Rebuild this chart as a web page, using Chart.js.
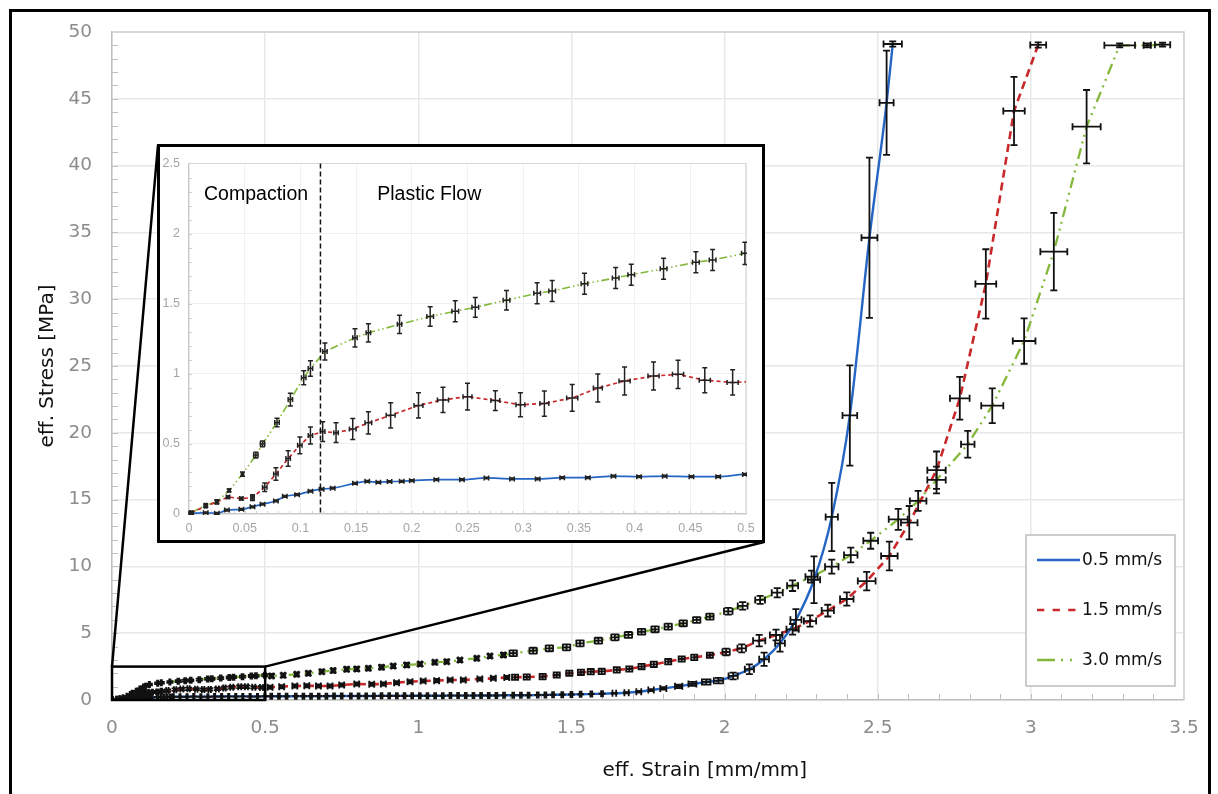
<!DOCTYPE html>
<html>
<head>
<meta charset="utf-8">
<title>eff. Stress vs eff. Strain</title>
<script src="https://cdn.jsdelivr.net/npm/chart.js@4.4.1/dist/chart.umd.min.js"></script>
<style>
  html, body { margin: 0; padding: 0; background: #fff; }
  #page { position: relative; width: 1218px; height: 794px; overflow: hidden; }
  #frame { position: absolute; left: 9px; top: 9px; width: 1202px; height: 820px; border: 3px solid #000; box-sizing: border-box; }
  #main { position: absolute; left: 0; top: 0; }
  #inset { position: absolute; left: 157px; top: 144px; width: 608px; height: 399px; border: 3px solid #000; box-sizing: border-box; background: #fff; }
  #insetChart { display: block; }
</style>
</head>
<body>
<div id="page">
  <div id="frame"></div>
  <canvas id="main" width="1218" height="794"></canvas>
  <div id="inset"><canvas id="insetChart" width="602" height="393"></canvas></div>
</div>
<script>
// series names
const seriesLabels = ['0.5 mm/s', '1.5 mm/s', '3.0 mm/s'];

// 0.5 mm/s
const blueStrain = [0.002,0.015,0.025,0.034,0.047,0.057,0.066,0.078,0.086,0.097,0.109,0.119,0.129,0.149,0.160,0.170,0.180,0.191,0.200,0.222,0.245,0.267,0.290,0.313,0.335,0.358,0.381,0.404,0.427,0.451,0.475,0.499,
  0.52,0.545,0.57,0.60,0.625,0.65,0.675,0.70,0.725,0.75,0.78,0.805,0.83,0.855,0.88,0.905,0.93,0.955,0.98,1.005,1.03,1.055,1.08,1.105,1.13,1.155,1.18,1.205,1.23,1.255,1.28,1.31,1.335,1.36,1.39,1.415,1.44,1.47,1.50,1.53,1.565,1.60,
  1.64,1.68,1.72,1.76,1.80,1.85,1.895,1.94,1.98,
  2.028,2.081,2.129,2.181,2.233,2.292,2.35,2.409,2.473,2.529,2.549];
const blueStress = [0.005,0.009,0.005,0.028,0.033,0.051,0.070,0.093,0.126,0.138,0.163,0.177,0.184,0.219,0.233,0.226,0.231,0.233,0.238,0.245,0.245,0.257,0.250,0.250,0.259,0.259,0.270,0.266,0.270,0.266,0.266,0.282,
  0.28,0.28,0.28,0.29,0.29,0.29,0.29,0.29,0.30,0.30,0.30,0.30,0.30,0.30,0.31,0.31,0.31,0.31,0.31,0.32,0.32,0.32,0.32,0.33,0.33,0.33,0.33,0.34,0.34,0.34,0.35,0.35,0.36,0.36,0.37,0.38,0.39,0.40,0.41,0.43,0.45,0.47,
  0.50,0.54,0.62,0.74,0.87,1.02,1.2,1.35,1.45,
  1.8,2.3,3.05,4.24,6.0,9.0,13.7,21.3,34.6,44.7,49.1];
const blueStrainErr = [0.002,0.002,0.002,0.002,0.002,0.002,0.002,0.002,0.002,0.002,0.002,0.002,0.002,0.002,0.002,0.002,0.002,0.002,0.002,0.002,0.002,0.002,0.002,0.002,0.002,0.002,0.002,0.002,0.002,0.002,0.002,0.002,
  0.003,0.003,0.003,0.003,0.003,0.003,0.003,0.003,0.003,0.003,0.003,0.003,0.003,0.003,0.003,0.003,0.003,0.003,0.003,0.003,0.003,0.003,0.003,0.003,0.003,0.003,0.003,0.003,0.003,0.003,0.003,0.003,0.003,0.003,0.003,0.003,0.003,0.003,0.003,0.003,0.003,0.003,
  0.006,0.007,0.008,0.009,0.010,0.012,0.013,0.014,0.015,
  0.015,0.015,0.016,0.016,0.018,0.020,0.020,0.024,0.026,0.023,0.030];
const blueStressErr = [0.006,0.006,0.006,0.006,0.006,0.006,0.006,0.006,0.006,0.006,0.006,0.006,0.006,0.006,0.006,0.006,0.006,0.006,0.006,0.006,0.006,0.006,0.006,0.006,0.006,0.006,0.006,0.006,0.006,0.006,0.006,0.006,
  0.01,0.01,0.01,0.01,0.01,0.01,0.01,0.01,0.01,0.01,0.01,0.01,0.01,0.01,0.01,0.01,0.01,0.01,0.01,0.01,0.01,0.01,0.01,0.01,0.01,0.01,0.01,0.01,0.01,0.01,0.01,0.01,0.01,0.01,0.01,0.01,0.01,0.01,0.01,0.01,0.01,0.01,
  0.03,0.05,0.06,0.08,0.10,0.12,0.15,0.20,0.20,
  0.25,0.37,0.50,0.62,0.80,1.75,2.55,3.75,6.0,3.9,0.2];

// 1.5 mm/s
const redStrain = [0.002,0.015,0.025,0.035,0.047,0.057,0.068,0.078,0.089,0.0995,0.109,0.120,0.132,0.147,0.161,0.181,0.206,0.228,0.250,0.275,0.2975,0.319,0.344,0.367,0.391,0.417,0.439,0.463,0.488,
  0.516,0.554,0.597,0.636,0.674,0.712,0.750,0.799,0.848,0.886,0.929,0.973,1.016,1.060,1.104,1.147,1.201,1.245,1.289,
  1.316,1.354,1.406,1.452,1.493,1.531,1.563,1.599,1.648,1.689,1.729,1.769,1.816,1.860,1.901,1.952,
  2.005,2.056,2.113,2.168,2.222,2.279,2.337,2.399,2.464,2.538,2.603,2.692,2.768,2.853,2.945,3.024];
const redStress = [0.01,0.056,0.086,0.121,0.11,0.117,0.191,0.285,0.396,0.49,0.56,0.588,0.58,0.606,0.65,0.704,0.774,0.814,0.837,0.809,0.779,0.788,0.828,0.898,0.949,0.984,0.996,0.954,0.938,
  0.95,1.0,1.05,1.07,1.05,1.05,1.12,1.2,1.17,1.2,1.3,1.37,1.42,1.45,1.5,1.5,1.57,1.62,1.68,
  1.70,1.72,1.75,1.87,2.0,2.07,2.12,2.14,2.25,2.32,2.5,2.67,2.87,3.07,3.19,3.35,
  3.6,3.87,4.44,4.87,5.29,5.91,6.69,7.56,8.9,10.78,13.27,17.2,22.58,31.14,44.09,49.03];
const redStrainErr = [0.001,0.001,0.001,0.0015,0.0015,0.0015,0.002,0.002,0.002,0.002,0.002,0.002,0.002,0.003,0.003,0.004,0.004,0.005,0.004,0.004,0.004,0.004,0.005,0.004,0.005,0.005,0.005,0.005,0.005,
  0.008,0.008,0.008,0.008,0.008,0.008,0.008,0.008,0.008,0.008,0.008,0.008,0.008,0.008,0.008,0.008,0.008,0.008,0.008,
  0.01,0.01,0.01,0.01,0.01,0.01,0.01,0.01,0.01,0.01,0.01,0.01,0.01,0.01,0.01,0.01,
  0.012,0.014,0.02,0.02,0.02,0.02,0.02,0.022,0.029,0.027,0.027,0.03,0.032,0.034,0.035,0.026];
const redStressErr = [0.005,0.01,0.01,0.01,0.01,0.02,0.03,0.045,0.055,0.06,0.06,0.07,0.07,0.075,0.08,0.09,0.09,0.09,0.095,0.07,0.085,0.09,0.095,0.1,0.1,0.1,0.1,0.09,0.09,
  0.12,0.12,0.12,0.12,0.12,0.12,0.12,0.12,0.12,0.12,0.12,0.12,0.12,0.12,0.12,0.12,0.12,0.12,0.12,
  0.2,0.2,0.2,0.2,0.2,0.2,0.2,0.2,0.2,0.2,0.2,0.2,0.2,0.2,0.2,0.2,
  0.25,0.3,0.43,0.4,0.4,0.42,0.44,0.5,0.69,1.08,1.25,1.4,1.6,2.6,2.55,0.2];

// 3.0 mm/s
const greenStrain = [0.002,0.015,0.025,0.036,0.048,0.060,0.066,0.079,0.091,0.103,0.109,0.122,0.149,0.161,0.189,0.2165,0.239,0.257,0.285,0.3125,0.326,0.355,0.383,0.397,0.426,0.455,0.470,0.499,
  0.521,0.559,0.603,0.641,0.685,0.722,0.766,0.799,0.837,0.880,0.918,0.962,1.006,1.054,1.093,1.136,1.191,1.234,1.278,
  1.31,1.375,1.428,1.484,1.528,1.588,1.642,1.686,1.729,1.773,1.816,1.865,1.909,1.952,
  2.012,2.059,2.116,2.172,2.222,2.284,2.35,2.412,2.477,2.567,2.632,2.692,2.794,2.874,2.978,3.075,3.182,3.29,3.38,3.43];
const greenStress = [0.01,0.063,0.086,0.168,0.285,0.42,0.50,0.653,0.816,0.972,1.038,1.159,1.257,1.292,1.353,1.409,1.446,1.474,1.525,1.574,1.59,1.642,1.684,1.707,1.749,1.796,1.812,1.859,
  1.80,1.85,1.92,2.0,2.12,2.2,2.3,2.32,2.37,2.45,2.54,2.62,2.69,2.82,2.87,2.99,3.12,3.29,3.37,
  3.5,3.69,3.87,3.94,4.24,4.44,4.69,4.87,5.11,5.29,5.49,5.74,5.99,6.24,
  6.64,7.04,7.49,8.03,8.56,9.23,9.98,10.85,11.92,13.52,14.9,16.47,19.14,22.03,26.87,33.56,42.91,49.0,49.0,49.05];
const greenStrainErr = [0.001,0.001,0.001,0.001,0.001,0.002,0.002,0.002,0.002,0.002,0.002,0.002,0.002,0.002,0.002,0.003,0.003,0.003,0.003,0.003,0.003,0.003,0.003,0.003,0.003,0.003,0.003,0.003,
  0.006,0.006,0.006,0.006,0.006,0.006,0.006,0.006,0.006,0.006,0.006,0.006,0.006,0.006,0.006,0.006,0.006,0.006,0.006,
  0.012,0.012,0.012,0.012,0.012,0.012,0.012,0.012,0.012,0.012,0.012,0.012,0.012,0.012,
  0.014,0.016,0.016,0.018,0.018,0.02,0.022,0.022,0.024,0.031,0.027,0.03,0.022,0.036,0.037,0.044,0.046,0.05,0.012,0.025];
const greenStressErr = [0.005,0.01,0.015,0.01,0.015,0.02,0.02,0.03,0.045,0.05,0.055,0.06,0.065,0.065,0.065,0.07,0.075,0.07,0.07,0.075,0.075,0.075,0.075,0.075,0.075,0.075,0.075,0.08,
  0.15,0.15,0.15,0.15,0.15,0.15,0.15,0.15,0.15,0.15,0.15,0.15,0.15,0.15,0.15,0.15,0.15,0.15,0.15,
  0.22,0.22,0.22,0.22,0.22,0.22,0.22,0.22,0.22,0.22,0.22,0.22,0.22,0.22,
  0.25,0.28,0.3,0.35,0.4,0.45,0.52,0.55,0.6,0.78,0.75,1.0,1.0,1.3,1.7,2.9,2.75,0.15,0.15,0.15];

// axis ticks
const strainTicks = [0, 0.5, 1, 1.5, 2, 2.5, 3, 3.5];
const stressTicks = [0, 5, 10, 15, 20, 25, 30, 35, 40, 45, 50];
const insetStrainTicks = [0, 0.05, 0.1, 0.15, 0.2, 0.25, 0.3, 0.35, 0.4, 0.45, 0.5];
const insetStressTicks = [0, 0.5, 1, 1.5, 2, 2.5];

// inset annotations
const compactionEnd = 0.118;
const regionLabels = ['Compaction', 'Plastic Flow'];
const regionLabelStrain = [0.0135, 0.169];
const regionLabelStress = 2.24;

const xTitle = 'eff. Strain [mm/mm]';
const yTitle = 'eff. Stress [MPa]';

function points(xs, ys) {
  return xs.map((x, i) => ({ x: x, y: ys[i] }));
}

// error bars (both directions) in black
const errorBarPlugin = {
  id: 'errorBars',
  afterDatasetsDraw(chart, args, o) {
    const { ctx, chartArea: a, scales: { x, y } } = chart;
    ctx.save();
    ctx.beginPath();
    ctx.rect(a.left - 1, a.top - 1, a.right - a.left + 2, a.bottom - a.top + 2);
    ctx.clip();
    ctx.strokeStyle = o.color;
    ctx.lineWidth = o.width;
    const c = o.cap / 2;
    chart.data.datasets.forEach(ds => {
      ds.data.forEach((p, i) => {
        const px = x.getPixelForValue(p.x), py = y.getPixelForValue(p.y);
        const x0 = x.getPixelForValue(p.x - ds.errX[i]), x1 = x.getPixelForValue(p.x + ds.errX[i]);
        const y0 = y.getPixelForValue(p.y - ds.errY[i]), y1 = y.getPixelForValue(p.y + ds.errY[i]);
        ctx.beginPath();
        ctx.moveTo(px, y0); ctx.lineTo(px, y1);
        ctx.moveTo(px - c, y0); ctx.lineTo(px + c, y0);
        ctx.moveTo(px - c, y1); ctx.lineTo(px + c, y1);
        ctx.moveTo(x0, py); ctx.lineTo(x1, py);
        ctx.moveTo(x0, py - c); ctx.lineTo(x0, py + c);
        ctx.moveTo(x1, py - c); ctx.lineTo(x1, py + c);
        ctx.stroke();
      });
    });
    ctx.restore();
  }
};

// plot area border + inside minor ticks
const axisDecor = {
  id: 'axisDecor',
  beforeDatasetsDraw(chart, args, o) {
    const { ctx, chartArea: a, scales: { x, y } } = chart;
    ctx.save();
    ctx.strokeStyle = o.borderColor;
    ctx.lineWidth = o.borderWidth;
    ctx.beginPath();
    ctx.moveTo(a.left, a.top); ctx.lineTo(a.right, a.top); ctx.lineTo(a.right, a.bottom);
    ctx.stroke();
    ctx.strokeStyle = o.tickColor;
    ctx.lineWidth = o.tickWidth;
    ctx.beginPath();
    const nx = Math.round((x.max - x.min) / o.xStep);
    for (let i = 1; i < nx; i++) {
      const px = Math.round(x.getPixelForValue(x.min + i * o.xStep)) + 0.5;
      ctx.moveTo(px, a.bottom); ctx.lineTo(px, a.bottom - o.len);
    }
    const ny = Math.round((y.max - y.min) / o.yStep);
    for (let i = 1; i < ny; i++) {
      const py = Math.round(y.getPixelForValue(y.min + i * o.yStep)) + 0.5;
      ctx.moveTo(a.left, py); ctx.lineTo(a.left + o.len, py);
    }
    ctx.stroke();
    ctx.restore();
  }
};

// zoom box, connector lines, legend, x title
const mainOverlay = {
  id: 'mainOverlay',
  afterDraw(chart) {
    const { ctx, chartArea: a, scales: { x, y } } = chart;
    const l = x.getPixelForValue(insetStrainTicks[0]);
    const r = x.getPixelForValue(insetStrainTicks[insetStrainTicks.length - 1]);
    const t = y.getPixelForValue(insetStressTicks[insetStressTicks.length - 1]);
    const b = y.getPixelForValue(insetStressTicks[0]);
    ctx.save();
    ctx.strokeStyle = '#000';
    ctx.lineWidth = 2.5;
    ctx.strokeRect(l, t, r - l, b - t);
    const box = document.getElementById('inset');
    const bl = box.offsetLeft, bt = box.offsetTop, bw = box.offsetWidth, bh = box.offsetHeight;
    ctx.beginPath();
    ctx.moveTo(l, t); ctx.lineTo(bl + 1, bt + 1);
    ctx.moveTo(r, t); ctx.lineTo(bl + bw - 1, bt + bh - 1);
    ctx.stroke();

    // legend
    const lg = { left: 1026, top: 535, width: 149, height: 151 };
    ctx.fillStyle = '#fff';
    ctx.fillRect(lg.left, lg.top, lg.width, lg.height);
    ctx.strokeStyle = '#bdbdbd';
    ctx.lineWidth = 1.5;
    ctx.strokeRect(lg.left, lg.top, lg.width, lg.height);
    ctx.font = '17px "DejaVu Sans"';
    ctx.textBaseline = 'middle';
    chart.data.datasets.forEach((ds, i) => {
      const cy = lg.top + 25 + i * 50;
      ctx.strokeStyle = ds.borderColor;
      ctx.lineWidth = ds.borderWidth;
      ctx.setLineDash(ds.legendDash);
      ctx.beginPath();
      ctx.moveTo(lg.left + 11, cy); ctx.lineTo(lg.left + 54, cy);
      ctx.stroke();
      ctx.setLineDash([]);
      ctx.fillStyle = '#111';
      ctx.fillText(ds.label, lg.left + 56, cy + 1);
    });

    // x axis title (sits right of centre in the original)
    ctx.font = '20px "DejaVu Sans"';
    ctx.fillStyle = '#111';
    ctx.textAlign = 'center';
    ctx.fillText(xTitle, a.left + (a.right - a.left) * 0.553, 771);
    ctx.restore();
  }
};

// dashed compaction limit + region names
const insetNotes = {
  id: 'insetNotes',
  afterDatasetsDraw(chart) {
    const { ctx, chartArea: a, scales: { x, y } } = chart;
    const px = x.getPixelForValue(compactionEnd);
    ctx.save();
    ctx.strokeStyle = '#111';
    ctx.lineWidth = 1.5;
    ctx.setLineDash([5, 3]);
    ctx.beginPath();
    ctx.moveTo(px, a.top); ctx.lineTo(px, a.bottom);
    ctx.stroke();
    ctx.setLineDash([]);
    ctx.fillStyle = '#000';
    ctx.font = '19.5px "Liberation Sans"';
    ctx.textBaseline = 'alphabetic';
    regionLabels.forEach((txt, i) => {
      ctx.fillText(txt, x.getPixelForValue(regionLabelStrain[i]), y.getPixelForValue(regionLabelStress));
    });
    ctx.restore();
  }
};

function makeDatasets(widths, dashes) {
  return [
    { label: seriesLabels[0], data: points(blueStrain, blueStress), errX: blueStrainErr, errY: blueStressErr,
      borderColor: '#2566c4', borderWidth: widths[0], borderDash: [], legendDash: [], cubicInterpolationMode: 'monotone' },
    { label: seriesLabels[1], data: points(redStrain, redStress), errX: redStrainErr, errY: redStressErr,
      borderColor: '#c8282a', borderWidth: widths[1], borderDash: dashes[1], legendDash: [7.3, 8.3] },
    { label: seriesLabels[2], data: points(greenStrain, greenStress), errX: greenStrainErr, errY: greenStressErr,
      borderColor: '#84b83a', borderWidth: widths[2], borderDash: dashes[2], legendDash: [18, 6, 2, 7, 2, 8] }
  ].map(ds => Object.assign(ds, { showLine: true, pointRadius: 0, pointHoverRadius: 0, fill: false }));
}

new Chart(document.getElementById('main'), {
  type: 'scatter',
  data: { datasets: makeDatasets([2.4, 2.6, 2.3], [[], [8, 5], [11, 5, 2, 5, 2, 5]]) },
  options: {
    responsive: false,
    animation: false,
    devicePixelRatio: 1,
    events: [],
    layout: { padding: { left: 0, right: 34, top: 32, bottom: 0 } },
    plugins: {
      legend: { display: false },
      tooltip: { enabled: false },
      errorBars: { color: '#111', width: 1.8, cap: 7 },
      axisDecor: { borderColor: '#cfcfcf', borderWidth: 1.5, tickColor: '#bfbfbf', tickWidth: 1, xStep: 0.1, yStep: 1, len: 6 }
    },
    scales: {
      x: {
        type: 'linear', min: 0, max: 3.5,
        afterBuildTicks: s => { s.ticks = strainTicks.map(v => ({ value: v })); },
        afterFit: s => { s.height = 94; },
        grid: { color: '#e8e8e8', lineWidth: 1.5, drawTicks: false },
        border: { color: '#bfbfbf', width: 1.5 },
        ticks: { font: { family: 'DejaVu Sans', size: 18.5 }, color: '#8c8c8c', padding: 17, maxRotation: 0, autoSkip: false, callback: v => String(v) }
      },
      y: {
        type: 'linear', min: 0, max: 50,
        afterBuildTicks: s => { s.ticks = stressTicks.map(v => ({ value: v })); },
        afterFit: s => { s.width = 112; },
        grid: { color: '#e8e8e8', lineWidth: 1.5, drawTicks: false },
        border: { color: '#bfbfbf', width: 1.5 },
        ticks: { font: { family: 'DejaVu Sans', size: 18.5 }, color: '#8c8c8c', padding: 20, autoSkip: false, callback: v => String(v) },
        title: { display: true, text: yTitle, font: { family: 'DejaVu Sans', size: 20 }, color: '#111', padding: { top: 36, bottom: 0 } }
      }
    }
  },
  plugins: [axisDecor, errorBarPlugin, mainOverlay]
});

new Chart(document.getElementById('insetChart'), {
  type: 'scatter',
  data: { datasets: makeDatasets([1.7, 1.7, 1.6], [[], [4, 3], [8, 3, 1.5, 3, 1.5, 3]]) },
  options: {
    responsive: false,
    animation: false,
    devicePixelRatio: 1,
    events: [],
    layout: { padding: { left: 0, right: 16, top: 10, bottom: 0 } },
    plugins: {
      legend: { display: false },
      tooltip: { enabled: false },
      errorBars: { color: '#222', width: 1.5, cap: 5 },
      axisDecor: { borderColor: '#d6d6d6', borderWidth: 1.2, tickColor: '#cfcfcf', tickWidth: 1, xStep: 0.01, yStep: 0.1, len: 3 }
    },
    scales: {
      x: {
        type: 'linear', min: 0, max: 0.5,
        afterBuildTicks: s => { s.ticks = insetStrainTicks.map(v => ({ value: v })); },
        afterFit: s => { s.height = 26; },
        grid: { color: '#f0f0f0', lineWidth: 1, drawTicks: false },
        border: { color: '#c8c8c8', width: 1.2 },
        ticks: { font: { family: 'Liberation Sans', size: 12.5 }, color: '#a6a6a6', padding: 7, maxRotation: 0, autoSkip: false, callback: v => String(v) }
      },
      y: {
        type: 'linear', min: 0, max: 2.5,
        afterBuildTicks: s => { s.ticks = insetStressTicks.map(v => ({ value: v })); },
        afterFit: s => { s.width = 29; },
        grid: { color: '#f0f0f0', lineWidth: 1, drawTicks: false },
        border: { color: '#c8c8c8', width: 1.2 },
        ticks: { font: { family: 'Liberation Sans', size: 12.5 }, color: '#a6a6a6', padding: 9, autoSkip: false, callback: v => String(v) }
      }
    }
  },
  plugins: [axisDecor, errorBarPlugin, insetNotes]
});
</script>
</body>
</html>
